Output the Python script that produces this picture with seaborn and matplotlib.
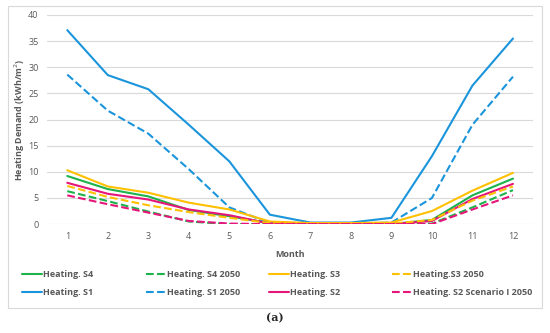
import matplotlib
matplotlib.use("Agg")
import matplotlib.pyplot as plt
import seaborn as sns
import pandas as pd
from matplotlib.patches import Rectangle

months = list(range(1, 13))

s4 = [9.2, 6.7, 5.3, 2.7, 1.5, 0.2, 0.0, 0.0, 0.0, 0.8, 5.5, 8.7]
s4_2050 = [6.3, 4.4, 2.4, 0.5, 0.0, 0.0, 0.0, 0.0, 0.0, 0.1, 3.2, 6.5]
s3 = [10.3, 7.2, 6.0, 4.1, 2.8, 0.5, 0.2, 0.2, 0.3, 2.5, 6.4, 9.8]
s3_2050 = [7.3, 5.2, 3.6, 2.3, 1.2, 0.2, 0.1, 0.1, 0.1, 0.8, 4.5, 7.2]
s1 = [37.1, 28.5, 25.8, 19.0, 12.0, 1.8, 0.3, 0.3, 1.2, 13.0, 26.5, 35.5]
s1_2050 = [28.6, 21.7, 17.3, 10.5, 3.2, 0.2, 0.1, 0.1, 0.3, 5.0, 19.0, 28.2]
s2 = [7.9, 5.8, 4.7, 2.8, 1.7, 0.1, 0.0, 0.0, 0.0, 0.6, 4.8, 7.7]
s2_2050 = [5.5, 3.8, 2.2, 0.6, 0.1, 0.0, 0.0, 0.0, 0.0, 0.0, 2.8, 5.5]

green = "#1DB34A"
yellow = "#FFC000"
blue = "#1A95DC"
pink = "#E6157A"

# legend columns: (top row, bottom row)
columns = [
    [("Heating. S4", s4, green, "-"), ("Heating. S1", s1, blue, "-")],
    [("Heating. S4 2050", s4_2050, green, "--"), ("Heating. S1 2050", s1_2050, blue, "--")],
    [("Heating. S3", s3, yellow, "-"), ("Heating. S2", s2, pink, "-")],
    [("Heating.S3 2050", s3_2050, yellow, "--"), ("Heating. S2 Scenario I 2050", s2_2050, pink, "--")],
]
col_x = [14, 138, 261, 384]

sns.set_style("white")
plt.rcParams['font.family'] = ['Open Sans', 'DejaVu Sans']
txt = "#595959"

fig = plt.figure(figsize=(5.5, 3.33), dpi=100)
ax = fig.add_axes([0.0855, 0.327, 0.884, 0.628])

fig.patches.append(Rectangle((8 / 550, 1 - 308 / 333), 534 / 550, 302 / 333,
                             transform=fig.transFigure, fill=False,
                             edgecolor="#d9d9d9", linewidth=0.8))

for col in columns:
    for name, vals, c, ls in col:
        df = pd.DataFrame({"Month": months, "val": vals})
        sns.lineplot(data=df, x="Month", y="val", color=c, linestyle=ls,
                     linewidth=1.5, ax=ax, label=name)

ax.set_xlim(0.5, 12.5)
ax.set_ylim(0, 40)
ax.set_xticks(months)
ax.set_yticks(range(0, 41, 5))
ax.yaxis.grid(True, color="#d9d9d9", linewidth=0.8)
for s in ax.spines.values():
    s.set_visible(False)
ax.tick_params(axis="both", length=0, labelsize=6.5, labelcolor=txt, pad=6)
ax.set_xlabel("Month", fontsize=6.5, color=txt, fontweight="bold", labelpad=6)
ax.set_ylabel("Heating Demand (kWh/m$^2$)", fontsize=6.5, color=txt, fontweight="bold")
ax.yaxis.set_label_coords(-0.042, 0.5)

handles, labels = ax.get_legend_handles_labels()
ax.get_legend().remove()
for i, x in enumerate(col_x):
    lg = fig.legend(handles[2 * i:2 * i + 2], labels[2 * i:2 * i + 2],
                    loc="upper left", bbox_to_anchor=(x / 550, 1 - 262 / 333),
                    frameon=False, labelcolor=txt, handlelength=2.2,
                    handletextpad=0.1, labelspacing=1.0,
                    prop={"weight": "bold", "size": 6.5})

fig.text(0.5, 1 - 318 / 333, "(a)", ha="center", va="center", fontsize=8,
         fontweight="bold", family="DejaVu Serif")

fig.savefig("out.png", dpi=100)
